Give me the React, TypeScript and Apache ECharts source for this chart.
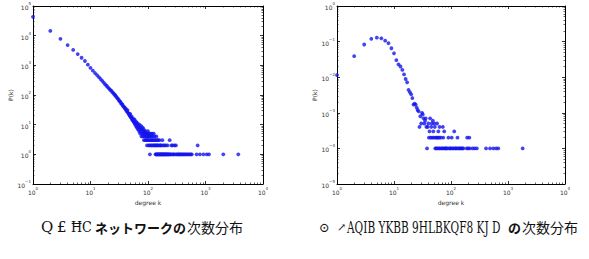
import React, { useEffect, useRef } from "react";
import * as echarts from "echarts";

// Network A: degree k vs number of nodes (log-log)
const leftHead: [number, number][] = [
  [1, 43000], [2, 14500], [3, 7800], [4, 4800], [5, 3300], [6, 2400], [7, 1800], [8, 1400],
  [9, 1050], [10, 820], [11, 660], [12, 550], [13, 470], [14, 400], [15, 345], [16, 300],
  [17, 262], [18, 228], [19, 205], [20, 184], [21, 165], [22, 150], [23, 140], [24, 124],
  [25, 116], [26, 104], [27, 98], [28, 88], [29, 80], [30, 75], [31, 68], [32, 62],
  [33, 60], [34, 52], [35, 50], [36, 47], [37, 42], [38, 40], [39, 38], [40, 34],
  [41, 35], [42, 30], [43, 28], [44, 31], [45, 25], [46, 24], [47, 22], [48, 20],
  [49, 23], [50, 18], [51, 17], [52, 19], [53, 15], [54, 14], [55, 16], [56, 13],
  [57, 12], [58, 15], [59, 11], [60, 10], [61, 13], [62, 9], [63, 12], [64, 8],
  [65, 10], [66, 11], [67, 7], [68, 9], [69, 8], [70, 6], [71, 10], [72, 7],
  [73, 5], [74, 8], [75, 6], [76, 9], [77, 4], [78, 7], [79, 5], [80, 6],
  [81, 8], [82, 4], [83, 5], [84, 7], [85, 3], [86, 6], [87, 4], [88, 5],
];

const leftTail: [number, number][] = [
  [89, 5], [90, 3], [91, 6], [92, 4], [93, 3], [94, 5], [95, 4], [96, 2], [97, 5], [98, 3],
  [99, 4], [100, 6], [101, 3], [102, 5], [103, 2], [104, 4], [105, 3], [106, 5], [107, 2],
  [108, 1], [109, 4], [110, 3], [112, 5], [113, 2], [114, 4], [115, 3], [117, 2], [118, 5],
  [120, 3], [121, 4], [123, 2], [125, 3], [126, 5], [128, 2], [130, 4], [131, 3], [133, 2],
  [135, 1], [136, 3], [138, 2], [139, 1], [140, 4], [141, 1], [143, 2], [144, 3], [145, 1],
  [147, 2], [149, 1], [150, 3], [152, 1], [154, 2], [156, 1], [158, 3], [160, 1], [162, 2],
  [164, 1], [166, 2], [168, 1], [171, 1], [173, 2], [175, 1], [178, 3], [180, 1], [183, 1],
  [185, 2], [188, 1], [191, 1], [194, 2], [197, 1], [200, 1], [204, 2], [207, 1], [211, 1],
  [215, 1], [219, 2], [223, 1], [228, 1], [233, 1], [238, 3], [243, 1], [249, 1], [255, 2],
  [261, 1], [268, 2], [275, 1], [282, 1], [290, 2], [298, 1], [306, 2], [315, 1], [326, 1],
  [338, 1], [350, 1], [363, 1], [377, 1], [392, 1], [408, 1], [425, 1], [443, 1], [462, 1],
  [483, 1], [506, 1], [530, 1], [556, 1], [578, 1], [700, 1], [730, 2], [800, 1], [920, 1],
  [1050, 1], [1150, 1], [2040, 1], [3720, 1],
];

// Network B: degree k vs P(k)
const rightHead: [number, number][] = [
  [1, 0.0115], [2, 0.039], [3, 0.083], [4, 0.12], [5, 0.129], [6, 0.124], [7, 0.106],
  [8, 0.09], [9, 0.065], [10, 0.047], [11, 0.03], [12, 0.023], [13, 0.02], [14, 0.016],
  [15, 0.012], [16, 0.0089], [17, 0.0072], [18, 0.0044], [19, 0.0038], [20, 0.0033],
  [21, 0.0026], [22, 0.0017], [23, 0.0018], [24, 0.0017], [25, 0.0014], [26, 0.0012],
  [27, 0.0011],
];

const rightTail: [number, number][] = [
  [28, 0.0004], [29, 0.0008], [30, 0.0005], [31, 0.001], [32, 0.0009], [33, 0.0007],
  [34, 0.0005], [35, 0.0006], [36, 0.0007], [37, 0.0004], [38, 0.0001], [39, 0.0004],
  [40, 0.0005], [41, 0.0002], [42, 0.0003], [43, 0.0007], [44, 0.0002], [45, 0.0004],
  [46, 0.0005], [47, 0.0002], [48, 0.0006], [49, 0.0003], [50, 0.0002], [51, 0.0005],
  [52, 0.0004], [53, 0.0001], [54, 0.0002], [55, 0.0001], [56, 0.0002], [57, 0.0005],
  [58, 0.0001], [59, 0.0002], [60, 0.0003], [61, 0.0001], [62, 0.0002], [63, 0.0004],
  [64, 0.0001], [66, 0.0002], [68, 0.0001], [70, 0.0001], [72, 0.0004], [73, 0.0002],
  [74, 0.0001], [76, 0.0003], [78, 0.0001], [80, 0.0001], [83, 0.0001], [86, 0.0001],
  [90, 0.0002], [93, 0.0001], [97, 0.0001], [100, 0.0001], [103, 0.0002], [107, 0.0001],
  [110, 0.0001], [114, 0.0003], [118, 0.0001], [122, 0.0001], [126, 0.0001], [130, 0.0002],
  [135, 0.0001], [140, 0.0001], [146, 0.0001], [152, 0.0001], [158, 0.0001], [165, 0.0001],
  [189, 0.0001], [192, 0.0002], [200, 0.0001], [210, 0.0002], [215, 0.0001], [240, 0.0001],
  [260, 0.0001], [284, 0.0001], [412, 0.0001], [484, 0.0001], [552, 0.0001], [620, 0.0001],
  [676, 0.0001], [1810, 0.0001],
];

const xRange = [1, 10000];
const leftYRange = [0.1, 100000];
const rightYRange = [0.00001, 1];

const xName = "degree k";
const yName = "P(k)";
const leftCaptionGarble = ["Q", "£", "ĦC"];
const leftCaptionKana = "ネットワークの";
const captionTail = "次数分布";
const rightCaptionGarble = ["⊙", "↗", "AQIB YKBB 9HLBKQF8 KJ D"];
const rightCaptionNo = "の";

const labelRich = {
  b: { fontSize: 6, color: "#333", fontFamily: "DejaVu Sans", lineHeight: 9, verticalAlign: "bottom" },
  s: { fontSize: 4, color: "#333", fontFamily: "DejaVu Sans", lineHeight: 9, verticalAlign: "top" },
};

const fmt = (v: number) => {
  const e = Math.round(Math.log10(v));
  return `{b|10}{s|${e < 0 ? "−" + -e : e}}`;
};

const axisLine = { show: true, lineStyle: { color: "#000", width: 1 } };
const major = { show: true, inside: true, length: 3, lineStyle: { color: "#000", width: 0.8 } };
const minor = { show: true, splitNumber: 9, length: 1.5, lineStyle: { color: "#000", width: 0.6 } };

function xAxes(grid: number) {
  return [
    {
      gridIndex: grid, type: "log", logBase: 10, min: xRange[0], max: xRange[1], position: "bottom",
      axisLine, axisTick: major, minorTick: minor, splitLine: { show: false },
      axisLabel: { formatter: fmt, rich: labelRich, margin: 2 },
      name: xName, nameLocation: "middle", nameGap: 12,
      nameTextStyle: { fontSize: 6, color: "#333", fontFamily: "DejaVu Sans" },
    },
    {
      gridIndex: grid, type: "log", logBase: 10, min: xRange[0], max: xRange[1], position: "top",
      axisLine, axisTick: major, minorTick: minor, splitLine: { show: false },
      axisLabel: { show: false },
    },
  ];
}

function yAxes(grid: number, range: number[], gap: number) {
  return [
    {
      gridIndex: grid, type: "log", logBase: 10, min: range[0], max: range[1], position: "left",
      axisLine, axisTick: major, minorTick: minor, splitLine: { show: false },
      axisLabel: { formatter: fmt, rich: labelRich, margin: 2 },
      name: yName, nameLocation: "middle", nameGap: gap,
      nameTextStyle: { fontSize: 6, color: "#333", fontFamily: "DejaVu Sans" },
    },
    {
      gridIndex: grid, type: "log", logBase: 10, min: range[0], max: range[1], position: "right",
      axisLine, axisTick: major, minorTick: minor, splitLine: { show: false },
      axisLabel: { show: false },
    },
  ];
}

const dotStyle = { color: "#1414ee" };

export default function App() {
  const ref = useRef<HTMLDivElement>(null);
  useEffect(() => {
    if (!ref.current) return;
    const chart = echarts.init(ref.current, undefined, { renderer: "svg" });
    const cy = 227;
    const serif = "DejaVu Serif";
    const cjk = "Noto Sans CJK JP";
    const t = (x: number, text: string, size: number, font: string, extra: any = {}, scaleX = 1) => ({
      type: "text", x, y: cy, scaleX,
      style: { text, fontSize: size, fontFamily: font, fill: "#111", verticalAlign: "middle", ...extra },
    });
    chart.setOption({
      animation: false,
      backgroundColor: "#fff",
      grid: [
        { left: 33, top: 6, width: 230, height: 178 },
        { left: 337, top: 6, width: 228, height: 178 },
      ],
      xAxis: [...xAxes(0), ...xAxes(1)],
      yAxis: [...yAxes(0, leftYRange, 17), ...yAxes(1, rightYRange, 19)],
      series: [
        {
          type: "scatter", xAxisIndex: 0, yAxisIndex: 0, symbolSize: 3.8,
          itemStyle: dotStyle, data: [...leftHead, ...leftTail],
        },
        {
          type: "scatter", xAxisIndex: 2, yAxisIndex: 2, symbolSize: 3.8,
          itemStyle: dotStyle, data: [...rightHead, ...rightTail],
        },
      ],
      graphic: [
        t(41, leftCaptionGarble[0], 15, serif),
        t(57, leftCaptionGarble[1], 15, serif),
        t(71, leftCaptionGarble[2], 15, serif, {}, 0.85),
        t(95, leftCaptionKana, 13, cjk, { fontWeight: "bold" }),
        t(187, captionTail, 14, cjk),

        t(319, rightCaptionGarble[0], 13, serif),
        t(337, rightCaptionGarble[1], 11, serif),
        t(347, rightCaptionGarble[2], 17, serif, {}, 0.62),
        t(508, rightCaptionNo, 13, cjk, { fontWeight: "bold" }),
        t(522, captionTail, 14, cjk),
      ],
    });
    return () => chart.dispose();
  }, []);
  return <div ref={ref} style={{ position: "fixed", left: 0, top: 0, width: 589, height: 259 }} />;
}
